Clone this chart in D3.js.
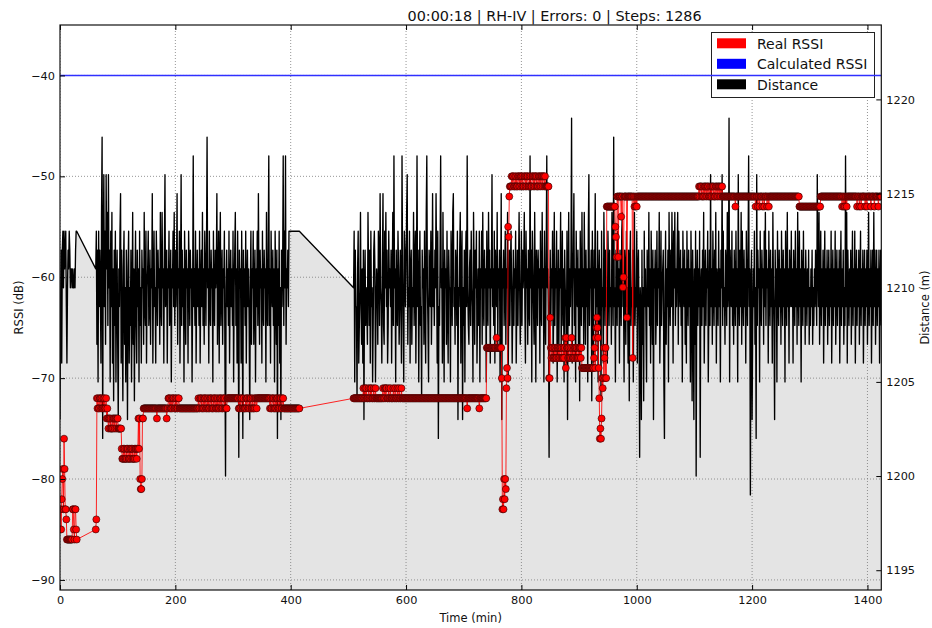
<!DOCTYPE html>
<html>
<head>
<meta charset="utf-8">
<script src="https://cdn.jsdelivr.net/npm/d3@7"></script>
<style>
  html, body { margin: 0; padding: 0; background: #fff; }
  svg { display: block; font-family: "DejaVu Sans", sans-serif; }
</style>
</head>
<body>
<svg id="chart" width="932" height="628"></svg>
<script>
// ---- data -------------------------------------------------------------
// Three recording segments, one reading per minute starting at these minutes.
const segmentStarts = [0, 62, 509];

// Distance to the node (m), minute by minute.
const distance1 = [
  1203,1209,1212,1206,1212,1213,1210,1213,1211,1212,1213,1209,1206,1210,1212,1211,1213,1212,1210,1211,
  1211,1210,1211,1210,1210,1211,1210,1212,1213,1213
];
const distance2 = [
  1211,1213,1207,1212,1205,1213,1209,1212,1210,1206,1214,1218,1202,1212,1216,1209,1213,1207,1216,1211,
  1214,1208,1216,1210,1212,1205,1213,1209,1214,1206,1211,1204,1212,1208,1213,1205,1210,1212,1207,1203,
  1211,1209,1213,1215,1206,1212,1208,1204,1211,1213,1207,1210,1205,1212,1209,1203,1211,1213,1206,1210,
  1208,1212,1205,1209,1214,1207,1211,1204,1210,1213,1208,1206,1212,1209,1211,1205,1213,1208,1210,1206,
  1212,1210,1211,1207,1214,1209,1208,1213,1206,1210,1211,1213,1208,1209,1212,1207,1211,1210,1215,1206,
  1210,1213,1209,1210,1206,1213,1211,1208,1212,1210,1211,1207,1214,1209,1208,1214,1210,1211,1206,1212,
  1216,1209,1210,1212,1206,1211,1210,1213,1208,1209,1212,1205,1211,1210,1213,1209,1214,1208,1212,1209,
  1211,1215,1207,1211,1210,1213,1206,1210,1216,1208,1212,1209,1211,1205,1213,1210,1207,1212,1210,1211,
  1206,1213,1211,1208,1212,1210,1211,1205,1210,1217,1209,1211,1208,1213,1206,1210,1212,1209,1211,1208,
  1213,1206,1210,1212,1209,1214,1208,1211,1207,1213,1211,1208,1212,1218,1210,1211,1206,1213,1209,1208,
  1212,1210,1211,1205,1213,1209,1208,1212,1210,1211,1215,1207,1210,1213,1206,1211,1214,1208,1210,1212,
  1207,1211,1210,1213,1206,1200,1210,1212,1209,1211,1208,1213,1206,1210,1212,1209,1211,1208,1213,1205,
  1210,1212,1214,1208,1211,1206,1213,1209,1201,1212,1210,1211,1206,1213,1209,1202,1212,1209,1211,1208,
  1213,1206,1210,1212,1209,1211,1208,1203,1210,1213,1207,1211,1210,1213,1207,1210,1212,1205,1211,1209,
  1213,1208,1215,1210,1207,1212,1210,1211,1206,1213,1209,1208,1212,1210,1211,1205,1214,1209,1208,1212,
  1217,1208,1211,1206,1213,1210,1209,1212,1208,1211,1205,1213,1210,1207,1212,1202,1211,1208,1213,1206,
  1210,1203,1212,1209,1211,1217,1208,1213,1210,1217,1207,1211,1210,1212,1209,1213,1213,1213,1213,1213,
  1213,1213,1213,1213,1213,1213,1213,1213,1213,1213,1213,1213,1213,1213
];
const distance3 = [
  1210,1213,1205,1212,1209,1209,1204,1211,1213,1206,1208,1210,1214,1209,1207,1211,1206,1212,1203,1210,
  1212,1208,1210,1209,1207,1214,1211,1208,1212,1206,1213,1209,1210,1205,1208,1212,1213,1211,1205,1209,
  1211,1210,1207,1213,1212,1208,1215,1210,1209,1206,1211,1215,1208,1207,1213,1210,1214,1209,1212,1206,
  1208,1213,1210,1211,1209,1212,1206,1210,1214,1208,1217,1210,1211,1205,1212,1209,1208,1213,1211,1207,
  1209,1212,1210,1206,1217,1211,1208,1205,1213,1212,1209,1211,1214,1216,1207,1210,1209,1213,1206,1211,
  1212,1207,1210,1209,1214,1208,1211,1213,1206,1210,1217,1209,1212,1205,1210,1213,1208,1209,1204,1212,
  1210,1211,1207,1213,1209,1206,1214,1217,1210,1208,1205,1212,1211,1209,1213,1207,1210,1215,1209,1211,
  1208,1212,1210,1215,1211,1206,1213,1202,1209,1208,1212,1217,1210,1211,1206,1214,1209,1205,1212,1210,
  1211,1207,1213,1209,1206,1212,1210,1210,1205,1213,1211,1208,1214,1215,1209,1210,1207,1212,1211,1208,
  1213,1203,1210,1209,1212,1214,1206,1211,1213,1203,1210,1208,1212,1205,1211,1213,1209,1217,1210,1208,
  1207,1211,1212,1208,1213,1210,1209,1205,1214,1211,1207,1212,1210,1213,1206,1209,1211,1208,1213,1205,
  1211,1210,1213,1207,1214,1209,1208,1212,1210,1211,1205,1213,1209,1208,1214,1210,1212,1206,1211,1210,
  1216,1209,1211,1208,1213,1206,1212,1210,1209,1214,1207,1211,1210,1212,1205,1209,1215,1203,1211,1210,
  1212,1208,1210,1213,1207,1211,1210,1214,1205,1209,1212,1208,1211,1213,1210,1206,1209,1212,1208,1211,
  1210,1213,1206,1209,1212,1208,1211,1214,1210,1207,1209,1213,1208,1212,1210,1211,1214,1209,1206,1213,
  1210,1211,1207,1212,1209,1208,1217,1210,1212,1205,1213,1211,1209,1207,1214,1210,1205,1212,1211,1208,
  1212,1210,1211,1206,1213,1209,1208,1214,1210,1211,1205,1213,1209,1207,1212,1217,1210,1211,1208,1201,
  1209,1212,1208,1211,1210,1213,1206,1209,1214,1208,1211,1210,1213,1205,1209,1212,1207,1211,1210,1214,
  1207,1210,1213,1208,1211,1205,1212,1210,1209,1206,1213,1203,1210,1214,1208,1211,1209,1212,1219,1206,
  1210,1212,1215,1208,1211,1205,1213,1210,1209,1212,1207,1211,1204,1213,1210,1208,1214,1209,1211,1207,
  1214,1210,1207,1212,1209,1211,1205,1213,1216,1208,1211,1210,1212,1204,1213,1209,1206,1212,1210,1215,
  1207,1211,1209,1213,1205,1210,1212,1208,1211,1204,1213,1209,1210,1206,1214,1211,1208,1212,1209,1210,
  1206,1213,1211,1208,1212,1209,1210,1207,1214,1211,1208,1218,1209,1210,1205,1212,1211,1208,1213,1209,
  1211,1206,1212,1210,1208,1213,1214,1209,1210,1205,1212,1211,1207,1213,1209,1210,1206,1212,1204,1211,
  1213,1208,1210,1209,1212,1205,1211,1214,1208,1210,1209,1213,1206,1211,1212,1208,1201,1210,1209,1203,
  1212,1207,1210,1204,1213,1209,1211,1208,1205,1212,1210,1209,1214,1208,1211,1206,1213,1210,1207,1212,
  1203,1211,1210,1212,1207,1209,1213,1208,1211,1210,1214,1206,1209,1213,1208,1210,1211,1212,1205,1202,
  1210,1213,1207,1211,1209,1212,1205,1214,1210,1208,1212,1209,1214,1211,1206,1213,1210,1214,1208,1211,
  1209,1212,1214,1207,1213,1210,1209,1212,1208,1211,1205,1213,1210,1209,1212,1207,1211,1206,1213,1210,
  1208,1212,1209,1211,1205,1213,1210,1204,1212,1209,1203,1211,1207,1213,1200,1210,1212,1208,1211,1209,
  1213,1201,1210,1211,1208,1212,1209,1214,1206,1210,1212,1208,1211,1210,1213,1205,1209,1212,1208,1216,
  1209,1211,1207,1213,1210,1208,1212,1209,1214,1206,1211,1210,1208,1213,1209,1211,1205,1212,1210,1216,
  1208,1213,1209,1210,1207,1212,1211,1208,1214,1209,1210,1219,1205,1212,1210,1209,1213,1208,1211,1207,
  1212,1210,1208,1213,1209,1211,1205,1216,1210,1208,1212,1209,1214,1207,1213,1210,1208,1212,1209,1211,
  1206,1213,1210,1208,1212,1217,1209,1211,1199,1210,1212,1203,1208,1211,1209,1213,1207,1210,1202,1216,
  1208,1212,1210,1211,1205,1213,1209,1208,1212,1210,1211,1207,1213,1209,1214,1208,1212,1210,1211,1206,
  1213,1210,1208,1212,1209,1211,1206,1214,1210,1208,1203,1212,1209,1211,1205,1213,1210,1208,1212,1209,
  1211,1207,1213,1210,1208,1212,1209,1211,1205,1213,1210,1208,1214,1209,1211,1206,1212,1210,1209,1213,
  1209,1211,1206,1212,1210,1208,1213,1209,1211,1207,1214,1210,1208,1213,1209,1211,1205,1212,1210,1208,
  1213,1209,1211,1207,1212,1210,1208,1211,1209,1212,1207,1210,1208,1211,1209,1212,1207,1210,1208,1211,
  1209,1212,1210,1208,1216,1211,1209,1214,1207,1210,1213,1208,1211,1209,1212,1206,1210,1213,1208,1211,
  1209,1212,1207,1210,1212,1208,1211,1209,1213,1206,1210,1212,1208,1211,1209,1213,1207,1210,1212,1208,
  1211,1209,1212,1206,1210,1213,1208,1211,1209,1212,1207,1210,1208,1217,1209,1214,1206,1212,1210,1208,
  1211,1209,1212,1207,1210,1213,1208,1211,1209,1213,1206,1210,1212,1208,1211,1209,1212,1207,1210,1213,
  1208,1211,1209,1212,1206,1210,1212,1208,1211,1209,1212,1207,1210,1214,1208,1211,1209,1212,1206,1210,
  1212,1208,1214,1209,1212,1207,1210,1212,1208,1211,1209,1212,1206,1210,1212,1208
];

// Real RSSI (dB) per segment, as [reading, consecutive minutes at that reading].
const rssiRuns1 = [
  [-85,1],[-83,1],[-85,1],[-82,1],[-80,1],[-79,1],[-83,1],[-76,1],[-79,1],[-83,2],[-84,1],
  [-86,10],[-83,2],[-85,1],[-86,1],[-83,2],[-85,1],[-86,1]
];
const rssiRuns2 = [
  [-85,1],[-84,1],
  [-72,1],[-73,1],[-72,1],[-73,2],[-72,2],[-73,1],[-72,1],[-73,2],[-72,1],[-73,1],[-72,1],[-73,2],[-72,1],[-74,1],[-73,1],[-74,1],
  [-75,1],[-74,2],[-75,1],[-74,1],[-75,2],[-74,1],[-75,1],[-74,2],[-75,1],[-74,2],[-75,1],[-74,2],[-75,6],
  [-77,1],[-78,2],[-77,1],[-78,1],[-77,1],[-78,2],[-77,1],[-78,1],[-77,2],[-78,2],[-77,1],[-78,1],[-77,2],[-78,1],[-77,1],[-78,2],[-77,1],[-78,1],[-77,2],[-78,1],[-77,2],
  [-74,1],[-77,1],[-74,1],[-80,1],[-81,2],[-80,1],[-74,2],
  [-73,23],[-74,1],[-73,16],[-74,1],[-73,2],
  [-72,2],[-73,1],[-72,1],[-73,2],[-72,1],[-73,1],[-72,2],[-73,2],[-72,1],[-73,1],[-72,1],[-73,2],[-72,2],[-73,2],
  [-73,31],
  [-72,1],[-73,2],[-72,2],[-73,1],[-72,1],[-73,2],[-72,1],[-73,1],[-72,2],[-73,2],[-72,1],[-73,1],[-72,1],[-73,2],[-72,2],
  [-73,1],[-72,1],[-73,2],[-72,1],[-73,1],[-72,2],[-73,2],[-72,1],[-73,1],[-72,1],[-73,2],[-72,2],[-73,1],[-72,1],[-73,2],
  [-72,2],[-73,1],[-72,1],[-73,3],
  [-72,20],
  [-73,2],[-72,1],[-73,1],[-72,2],[-73,2],[-72,1],[-73,3],[-72,1],[-73,1],[-72,2],[-73,2],[-72,1],[-73,1],[-72,2],[-73,2],[-72,1],[-73,2],[-72,1],[-73,1],[-72,2],[-73,1],
  [-72,22],
  [-73,1],[-72,1],[-73,2],[-72,2],[-73,1],[-72,1],[-73,2],[-72,1],[-73,1],[-72,2],[-73,2],[-72,1],[-73,1],[-72,2],[-73,2],[-72,2],
  [-73,28]
];
const rssiRuns3 = [
  [-72,16],
  [-72,1],[-71,1],[-72,2],[-71,1],[-72,1],[-71,1],[-72,3],[-71,1],[-72,2],[-71,1],[-72,1],[-71,1],[-72,3],[-71,1],[-72,2],[-71,1],[-72,2],
  [-72,10],
  [-71,1],[-72,2],[-71,1],[-72,1],[-71,2],[-72,3],[-71,1],[-72,2],[-71,1],[-72,4],[-71,1],[-72,2],[-71,1],[-72,3],[-71,1],[-72,2],[-71,1],[-72,3],[-71,1],[-72,1],
  [-72,112],[-73,1],[-72,20],[-73,1],[-72,12],
  [-67,17],[-66,1],[-67,8],
  [-70,1],[-83,1],[-82,1],[-83,1],[-80,1],[-82,1],[-80,1],[-81,1],[-71,1],[-69,1],[-70,1],[-55,1],[-56,1],[-52,1],
  [-51,3],
  [-50,1],[-51,1],[-50,2],[-51,2],[-50,1],[-51,1],[-50,1],[-51,2],[-50,2],[-51,1],[-50,1],[-51,1],[-50,2],[-51,1],[-50,1],[-51,2],[-50,2],[-51,1],[-50,1],[-51,1],
  [-50,2],[-51,2],[-50,1],[-51,1],[-50,1],[-51,2],[-50,2],[-51,1],[-50,1],[-51,1],[-50,2],[-51,1],[-50,1],[-51,2],[-50,2],[-51,1],[-50,1],[-51,1],[-50,2],[-51,1],
  [-50,2],[-51,1],[-50,1],[-51,3],
  [-51,3],
  [-70,2],[-64,1],
  [-67,1],[-68,1],[-67,2],[-68,2],[-67,1],[-68,1],[-67,1],[-68,2],[-67,2],[-68,1],[-67,1],[-68,1],[-67,2],[-68,1],[-67,1],[-68,2],
  [-67,1],[-68,1],[-67,1],[-66,1],[-69,1],[-66,1],
  [-67,2],[-68,1],[-67,1],[-68,2],[-67,1],[-68,1],[-66,1],
  [-67,1],[-68,2],[-67,1],[-68,1],[-67,2],[-68,1],[-67,1],[-68,2],[-67,1],[-68,1],[-67,2],[-68,1],[-67,1],
  [-69,21],
  [-68,1],[-67,1],[-69,1],[-66,1],[-65,1],[-64,1],[-65,1],[-66,1],[-69,1],[-72,1],[-76,1],
  [-75,1],[-76,1],[-74,1],[-70,1],[-71,1],[-70,1],[-67,1],[-68,1],[-70,1],[-67,1],[-70,1],
  [-53,15],
  [-55,1],[-56,1],[-58,1],[-52,2],[-58,1],[-52,4],[-54,1],[-52,2],[-61,1],[-60,1],[-52,5],[-64,1],[-52,9],[-68,1],
  [-52,2],[-53,1],[-52,1],[-53,1],[-52,1],[-53,1],[-52,3],
  [-52,104],
  [-51,1],[-52,1],[-51,2],[-52,1],[-51,1],[-52,2],[-51,1],[-52,1],[-51,2],[-52,1],[-51,1],[-52,1],[-51,2],[-52,2],[-51,1],
  [-52,1],[-51,1],[-52,1],[-51,2],[-52,1],[-51,1],[-52,2],[-51,2],[-52,1],[-51,1],[-52,1],[-51,2],[-52,1],[-51,1],[-52,1],[-51,2],
  [-52,22],[-53,1],[-52,34],
  [-53,1],[-52,3],[-53,1],[-52,2],[-53,1],[-52,4],[-53,1],[-52,2],[-53,1],[-52,4],[-53,1],[-52,2],[-53,1],
  [-52,52],
  [-53,37],
  [-52,37],
  [-53,1],[-52,2],[-53,1],[-52,1],[-53,1],[-52,2],[-53,1],[-52,1],
  [-52,16],
  [-53,1],[-52,3],[-53,1],[-52,2],[-53,1],[-52,6],[-53,1],[-52,2],[-53,1],[-52,6],[-53,1],[-52,5],[-53,1],[-52,6],[-53,1],[-52,5]
];

// Calculated RSSI (dB): flat over the whole run.
const calculatedRssi = [-40, -40];

const timeTicks = [0, 200, 400, 600, 800, 1000, 1200, 1400];
const rssiTicks = [-90, -80, -70, -60, -50, -40];
const distanceTicks = [1195, 1200, 1205, 1210, 1215, 1220];
const rssiRange = [-91, -35];
const distanceRange = [1193.95, 1223.95];
const legendLabels = ["Real RSSI", "Calculated RSSI", "Distance"];
const titleText = "00:00:18 | RH-IV | Errors: 0 | Steps: 1286";

// ---- assemble readings ------------------------------------------------
const expandRuns = runs => runs.flatMap(([v, n]) => Array(n).fill(v));
const distanceSegments = [distance1, distance2, distance3];
const rssiSegments = [rssiRuns1, rssiRuns2, rssiRuns3].map(expandRuns);

const distancePts = [];
const rssiPts = [];
segmentStarts.forEach((start, s) => {
  distanceSegments[s].forEach((d, i) => distancePts.push({ t: start + i, v: d }));
  rssiSegments[s].forEach((r, i) => rssiPts.push({ t: start + i, v: r }));
});

// ---- layout -----------------------------------------------------------
const W = 932, H = 628;
const plot = { left: 60, right: 881.3, top: 25, bottom: 590 };

const tExtent = d3.extent(distancePts.concat(rssiPts), d => d.t);
const x = d3.scaleLinear().domain(tExtent).range([plot.left, plot.right]);
const yRssi = d3.scaleLinear().domain(rssiRange).range([plot.bottom, plot.top]);
const yDist = d3.scaleLinear().domain(distanceRange).range([plot.bottom, plot.top]);

const svg = d3.select("#chart");
svg.append("rect").attr("width", W).attr("height", H).attr("fill", "#fff");

svg.append("defs").append("clipPath").attr("id", "plotClip")
  .append("rect")
  .attr("x", plot.left).attr("y", plot.top)
  .attr("width", plot.right - plot.left).attr("height", plot.bottom - plot.top);

const underLayer = svg.append("g").attr("clip-path", "url(#plotClip)");

// distance: shaded area under the line
underLayer.append("path")
  .datum(distancePts)
  .attr("fill", "#e4e4e4")
  .attr("d", d3.area().x(d => x(d.t)).y0(plot.bottom).y1(d => yDist(d.v)));

// grid
const grid = underLayer.append("g")
  .attr("stroke", "#7a7a7a").attr("stroke-width", 0.8).attr("stroke-dasharray", "1,2");
grid.selectAll("line.v").data(timeTicks).join("line").attr("class", "v")
  .attr("x1", d => x(d)).attr("x2", d => x(d))
  .attr("y1", plot.top).attr("y2", plot.bottom);
grid.selectAll("line.h").data(rssiTicks).join("line").attr("class", "h")
  .attr("x1", plot.left).attr("x2", plot.right)
  .attr("y1", d => yRssi(d)).attr("y2", d => yRssi(d));

// distance line
underLayer.append("path")
  .datum(distancePts)
  .attr("fill", "none").attr("stroke", "#000").attr("stroke-width", 1.35)
  .attr("stroke-linejoin", "round")
  .attr("d", d3.line().x(d => x(d.t)).y(d => yDist(d.v)));

// legend
const legendColors = ["#ff0000", "#0000ff", "#000000"];
const lg = svg.append("g");
lg.append("rect")
  .attr("x", 711.5).attr("y", 32.5).attr("width", 163).attr("height", 65)
  .attr("fill", "#fff").attr("stroke", "#222").attr("stroke-width", 1);
legendLabels.forEach((lab, i) => {
  const cy = 43.3 + i * 20.5;
  lg.append("rect").attr("x", 717).attr("y", cy - 5).attr("width", 29).attr("height", 10)
    .attr("fill", legendColors[i]);
  lg.append("text").attr("x", 757).attr("y", cy + 5.2)
    .attr("font-size", "14px").attr("fill", "#111").text(lab);
});

// real RSSI: line then markers
const overLayer = svg.append("g").attr("clip-path", "url(#plotClip)");
overLayer.append("path")
  .datum(rssiPts)
  .attr("fill", "none").attr("stroke", "#ff0000").attr("stroke-opacity", 0.85)
  .attr("stroke-width", 1)
  .attr("d", d3.line().x(d => x(d.t)).y(d => yRssi(d.v)));
overLayer.append("g").selectAll("circle").data(rssiPts).join("circle")
  .attr("cx", d => x(d.t)).attr("cy", d => yRssi(d.v)).attr("r", 3.5)
  .attr("fill", "#ff0000").attr("stroke", "#2a0000").attr("stroke-width", 0.6);

// calculated RSSI
overLayer.append("path")
  .datum(calculatedRssi.map((v, i) => ({ t: tExtent[i], v })))
  .attr("fill", "none").attr("stroke", "#3030ff").attr("stroke-width", 1.4)
  .attr("d", d3.line().x(d => x(d.t)).y(d => yRssi(d.v)));

// ---- axes -------------------------------------------------------------
const fmt = d3.format("d");
function styleAxis(g) {
  g.select(".domain").remove();
  g.selectAll(".tick line").attr("stroke", "#000").attr("stroke-width", 1);
  g.selectAll(".tick text").attr("font-size", "11.3px").attr("fill", "#111")
    .attr("font-family", "DejaVu Sans, sans-serif");
}
svg.append("g").attr("transform", `translate(0,${plot.bottom})`)
  .call(d3.axisBottom(x).tickValues(timeTicks).tickFormat(fmt).tickSizeInner(-5).tickSizeOuter(0).tickPadding(6))
  .call(styleAxis);
svg.append("g").attr("transform", `translate(0,${plot.top})`)
  .call(d3.axisTop(x).tickValues(timeTicks).tickFormat("").tickSizeInner(-5).tickSizeOuter(0))
  .call(styleAxis);
svg.append("g").attr("transform", `translate(${plot.left},0)`)
  .call(d3.axisLeft(yRssi).tickValues(rssiTicks).tickFormat(fmt).tickSizeInner(-5).tickSizeOuter(0).tickPadding(5))
  .call(styleAxis);
svg.append("g").attr("transform", `translate(${plot.right},0)`)
  .call(d3.axisRight(yDist).tickValues(distanceTicks).tickFormat(fmt).tickSizeInner(-5).tickSizeOuter(0).tickPadding(5))
  .call(styleAxis);

// frame
svg.append("rect")
  .attr("x", plot.left).attr("y", plot.top)
  .attr("width", plot.right - plot.left).attr("height", plot.bottom - plot.top)
  .attr("fill", "none").attr("stroke", "#111").attr("stroke-width", 1.2);

// labels
svg.append("text").attr("x", (plot.left + plot.right) / 2).attr("y", 621.5)
  .attr("text-anchor", "middle").attr("font-size", "11.5px").attr("fill", "#111").text("Time (min)");
svg.append("text").attr("transform", `translate(22.5,${(plot.top + plot.bottom) / 2}) rotate(-90)`)
  .attr("text-anchor", "middle").attr("font-size", "11.5px").attr("fill", "#111").text("RSSI (dB)");
svg.append("text").attr("transform", `translate(929,${(plot.top + plot.bottom) / 2}) rotate(-90)`)
  .attr("text-anchor", "middle").attr("font-size", "11.5px").attr("fill", "#111").text("Distance (m)");
svg.append("text").attr("x", 407.5).attr("y", 20.5)
  .attr("font-size", "14.4px").attr("fill", "#111").text(titleText);
</script>
</body>
</html>
